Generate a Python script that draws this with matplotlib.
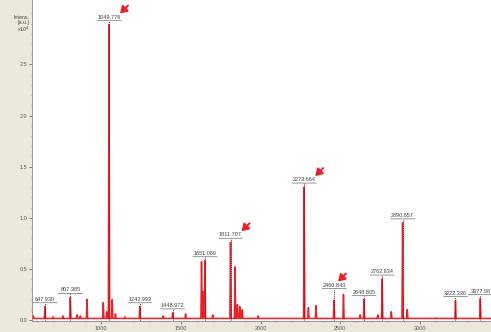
import matplotlib
matplotlib.use("Agg")
import matplotlib.pyplot as plt
from matplotlib.transforms import offset_copy

plt.rcParams['font.family'] = ['Liberation Sans', 'DejaVu Sans']

# labelled peaks (m/z, intensity x10^4)
label_mz = [647.939, 807.385, 1049.776, 1242.993, 1448.972, 1651.069, 1811.707,
            2273.664, 2460.843, 2648.805, 2762.634, 2890.657, 3222.336, 3377.98]
label_int = [0.13, 0.22, 2.89, 0.13, 0.07, 0.58, 0.76,
             1.30, 0.19, 0.20, 0.40, 0.95, 0.19, 0.21]
label_txt = ["647.939", "807.385", "1049.776", "1242.993", "1448.972", "1651.069", "1811.707",
             "2273.664", "2460.843", "2648.805", "2762.634", "2890.657", "3222.336", "3377.98"]

# other visible peaks
other_mz = [575, 700, 760, 850, 870, 912, 1014, 1035, 1070, 1090, 1150, 1390, 1530, 1630,
            1640, 1700, 1840, 1855, 1870, 1885, 1985, 2300, 2348, 2520, 2625, 2735, 2820,
            2920, 3100]
other_int = [0.04, 0.03, 0.04, 0.05, 0.04, 0.20, 0.17, 0.08, 0.20, 0.06, 0.03, 0.04, 0.06, 0.57,
             0.28, 0.05, 0.52, 0.15, 0.13, 0.10, 0.04, 0.12, 0.14, 0.25, 0.05, 0.05, 0.08,
             0.10, 0.02]

arrow_peaks = ["1049.776", "1811.707", "2273.664", "2460.843"]

baseline = 0.015
beige = "#ece9dc"
red = "#e8212b"

peaks = sorted(zip(label_mz + other_mz, label_int + other_int))
xs, ys = [560], [baseline]
for m, h in peaks:
    xs += [m - 4, m, m + 4]
    ys += [baseline, h, baseline]
xs.append(3450)
ys.append(baseline)

fig = plt.figure(figsize=(4.91, 3.32), dpi=100, facecolor=beige)
ax = fig.add_axes([32 / 491, 11 / 332, 459 / 491, 321 / 332])
ax.set_facecolor("white")
ax.plot(xs, ys, color=red, lw=1.1)

ax.set_xlim(567, 3445)
ax.set_ylim(-0.01, 3.13)

for m, h, t in zip(label_mz, label_int, label_txt):
    up = 12 if t == "2460.843" else 4
    ax.plot([m, m], [0, h + up * 0.0098], color="#9a1010", lw=0.7, ls=(0, (1, 1)))
    ax.annotate(t, xy=(m, h), xytext=(0, (up + 1) * 0.72), textcoords='offset points',
                ha='center', va='bottom', fontsize=4, color="#444444",
                annotation_clip=False)
    # underline
    ax.annotate("", xy=(m, h), xycoords=offset_copy(ax.transData, fig=fig, x=-12, y=up, units='dots'),
                xytext=(24, 0), textcoords='offset pixels',
                arrowprops=dict(arrowstyle='-', color="#888888", lw=0.6, shrinkA=0, shrinkB=0),
                annotation_clip=False)
    if t in arrow_peaks:
        dx = 4 if t == "2460.843" else 11
        head = offset_copy(ax.transData, fig=fig, x=dx, y=up + 7, units='dots')
        ax.annotate("", xy=(m, h), xycoords=head, xytext=(8, 8), textcoords='offset pixels',
                    arrowprops=dict(arrowstyle='-|>,head_width=0.25,head_length=0.4',
                                    color=red, lw=1.4, shrinkA=0, shrinkB=0),
                    annotation_clip=False)

ax.set_xticks([1000, 1500, 2000, 2500, 3000])
ax.set_xticks(range(600, 3450, 100), minor=True)
ax.set_yticks([0.0, 0.5, 1.0, 1.5, 2.0, 2.5])
ax.set_yticks([i * 0.1 for i in range(31)], minor=True)
ax.set_yticklabels(["0.0", "0.5", "1.0", "1.5", "2.0", "2.5"])
ax.tick_params(axis='both', labelsize=4, colors="#555555", length=2, width=0.5, pad=1.5)
ax.tick_params(which='minor', length=1, width=0.4, colors="#777777")
for s in ["top", "right"]:
    ax.spines[s].set_visible(False)
for s in ["left", "bottom"]:
    ax.spines[s].set_color("#888888")
    ax.spines[s].set_linewidth(0.6)

fig.text(30 / 491, 1 - 15 / 332, "Intens.\n[a.u.]\nx10$^4$", ha='right', va='top',
         fontsize=3.8, color="#444444", linespacing=1.0)

fig.savefig("out.png", dpi=100, facecolor=beige)
